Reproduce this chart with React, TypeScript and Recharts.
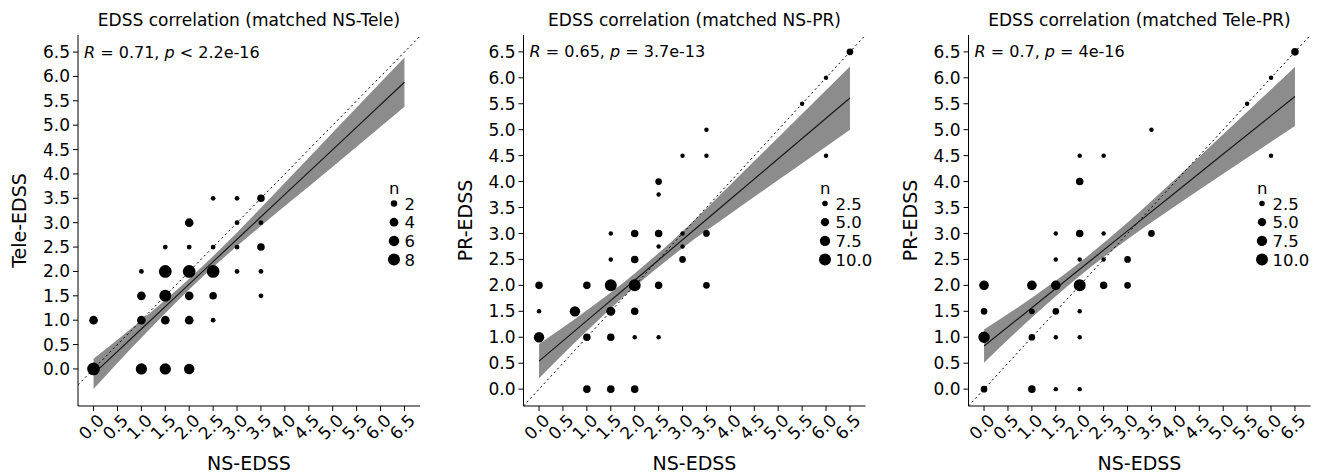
import React from 'react';
import {
  ComposedChart,
  Scatter,
  Line,
  Area,
  XAxis,
  YAxis,
  ZAxis,
  ReferenceLine,
  ReferenceDot,
  Legend,
} from 'recharts';

const FONT = "'DejaVu Sans', 'Open Sans', sans-serif";

// shared tick values
const TICKS = [0, 0.5, 1, 1.5, 2, 2.5, 3, 3.5, 4, 4.5, 5, 5.5, 6, 6.5];

// ---------- Panel 1: NS vs Tele ----------
const P1_X = [0, 0, 1, 1.5, 2, 1, 1.5, 2, 2.5, 1, 1.5, 2, 2.5, 3.5, 1, 1.5, 2, 2.5, 3, 3.5, 1.5, 2, 2.5, 3, 3.5, 2, 3, 3.5, 2.5, 3, 3.5];
const P1_Y = [0, 1, 0, 0, 0, 1, 1, 1, 1, 1.5, 1.5, 1.5, 1.5, 1.5, 2, 2, 2, 2, 2, 2, 2.5, 2.5, 2.5, 2.5, 2.5, 3, 3, 3, 3.5, 3.5, 3.5];
const P1_N = [9, 4, 7, 7, 6, 4, 4, 4, 1, 4, 8, 4, 3, 1, 1, 9, 9, 9, 1, 1, 1, 1, 1, 1, 3, 4, 1, 1, 1, 1, 3];
const P1_FIT_X = [0, 1, 2, 3, 4, 5, 6.5];
const P1_FIT = [-0.1, 0.82, 1.74, 2.66, 3.58, 4.5, 5.88];
const P1_LO = [-0.41, 0.64, 1.63, 2.52, 3.34, 4.15, 5.38];
const P1_HI = [0.21, 1.0, 1.85, 2.8, 3.82, 4.85, 6.39];
const P1_BREAKS = [2, 4, 6, 8];
const P1_BREAK_LABELS = ['2', '4', '6', '8'];

// ---------- Panel 2: NS vs PR ----------
const P2_X = [0, 0, 0, 0.75, 1, 1, 1, 1.5, 1.5, 1.5, 1.5, 1.5, 1.5, 2, 2, 2, 2, 2, 2, 2.5, 2.5, 2.5, 2.5, 2.5, 2.5, 3, 3, 3, 3, 3.5, 3.5, 3.5, 3.5, 5.5, 6, 6, 6.5];
const P2_Y = [2, 1.5, 1, 1.5, 2, 1, 0, 3, 2.5, 2, 1.5, 1, 0, 3, 2.5, 2, 1.5, 1, 0, 4, 3.75, 3, 2.75, 2, 1, 4.5, 3, 2.75, 2.5, 5, 4.5, 3, 2, 5.5, 6, 4.5, 6.5];
const P2_N = [5, 2, 9, 9, 5, 5, 5, 2, 2, 12, 7, 5, 5, 5, 5, 12, 5, 2, 5, 4, 2, 5, 2, 5, 2, 2, 2, 2, 4, 2, 2, 4, 4, 2, 2, 2, 4];
const P2_FIT_X = [0, 1, 2, 3, 4, 5, 6.5];
const P2_FIT = [0.54, 1.32, 2.1, 2.88, 3.66, 4.44, 5.61];
const P2_LO = [0.21, 1.12, 1.97, 2.72, 3.38, 4.03, 5.0];
const P2_HI = [0.87, 1.52, 2.23, 3.04, 3.94, 4.85, 6.22];

// ---------- Panel 3: Tele vs PR ----------
const P3_X = [0, 0, 0, 0, 1, 1, 1, 1, 1.5, 1.5, 1.5, 1.5, 1.5, 1.5, 2, 2, 2, 2, 2, 2, 2, 2, 2.5, 2.5, 2.5, 2.5, 3, 3, 3.5, 3.5, 5.5, 6, 6, 6.5];
const P3_Y = [2, 1.5, 1, 0, 2, 1.5, 1, 0, 3, 2.5, 2, 1.5, 1, 0, 4.5, 4, 3, 2.5, 2, 1.5, 1, 0, 4.5, 3, 2.5, 2, 2.5, 2, 5, 3, 5.5, 6, 4.5, 6.5];
const P3_N = [8, 4, 11, 4, 8, 3, 4, 5, 2, 2, 8, 4, 2, 2, 2, 5, 5, 2, 12, 2, 2, 2, 2, 2, 2, 5, 4, 4, 2, 4, 2, 2, 2, 5];
const P3_FIT_X = [0, 1, 2, 3, 4, 5, 6.5];
const P3_FIT = [0.83, 1.57, 2.31, 3.05, 3.79, 4.53, 5.64];
const P3_LO = [0.51, 1.38, 2.18, 2.89, 3.53, 4.15, 5.07];
const P3_HI = [1.15, 1.76, 2.44, 3.21, 4.05, 4.91, 6.21];

const P23_BREAKS = [2.5, 5, 7.5, 10];
const P23_BREAK_LABELS = ['2.5', '5.0', '7.5', '10.0'];

const X_DOMAIN: [number, number] = [-0.325, 6.825];

const buildPoints = (xs: number[], ys: number[], ns: number[]) =>
  xs.map((x, i) => ({ x, y: ys[i], n: ns[i] }));
const buildFit = (xs: number[], f: number[], lo: number[], hi: number[]) =>
  xs.map((x, i) => ({ x, fit: f[i], band: [lo[i], hi[i]] }));

const TICK_FS = 17;

const XTick = (props: any) => {
  const { x, y, payload } = props;
  return (
    <g transform={`translate(${x + 3},${y})`}>
      <text transform="rotate(-45)" textAnchor="end" dy="0.72em" fontSize={TICK_FS} fill="#000" fontFamily={FONT}>
        {Number(payload.value).toFixed(1)}
      </text>
    </g>
  );
};

const XTitle = (props: any) => {
  const vb = props.viewBox || {};
  return (
    <text x={vb.x + vb.width / 2} y={vb.y + 64} textAnchor="middle" fontSize={19} fill="#000" fontFamily={FONT}>
      NS-EDSS
    </text>
  );
};

const YTitle = (props: any) => {
  const vb = props.viewBox || {};
  const x = vb.x + vb.width - 52;
  const y = vb.y + vb.height / 2;
  return (
    <text x={x} y={y} transform={`rotate(-90, ${x}, ${y})`} textAnchor="middle" fontSize={19} fill="#000" fontFamily={FONT}>
      {props.text}
    </text>
  );
};

const RLabel = (props: any) => {
  const vb = props.viewBox || {};
  return (
    <text x={vb.x + 7} y={vb.y + 6.5} fontSize={16} fill="#000" fontFamily={FONT}>
      <tspan fontStyle="italic">R</tspan>
      <tspan>{` = ${props.r}, `}</tspan>
      <tspan fontStyle="italic">p</tspan>
      <tspan>{` ${props.p}`}</tspan>
    </text>
  );
};

type PanelProps = {
  left: number;
  width: number;
  yAxisWidth: number;
  rightMargin: number;
  title: string;
  yLabel: string;
  r: string;
  p: string;
  points: { x: number; y: number; n: number }[];
  fit: { x: number; fit: number; band: number[] }[];
  yDomain: [number, number];
  zDomain: [number, number];
  zRange: [number, number];
  breaks: number[];
  breakLabels: string[];
  legendLeft: number;
};

const PLOT_W = 342;

function SizeLegend({ breaks, breakLabels, zDomain, zRange }: any) {
  const radius = (b: number) => {
    const a = zRange[0] + ((zRange[1] - zRange[0]) * (b - zDomain[0])) / (zDomain[1] - zDomain[0]);
    return Math.sqrt(a / Math.PI);
  };
  const rowStep = 18.7;
  const firstRow = 28.5;
  return (
    <svg width={70} height={100} style={{ display: 'block', overflow: 'visible' }}>
      <text x={5} y={18.6} fontSize={16.5} fill="#000" fontFamily={FONT}>n</text>
      {breaks.map((b: number, i: number) => (
        <g key={i}>
          <circle cx={10} cy={firstRow + i * rowStep} r={radius(b)} fill="#000" />
          <text x={20.5} y={firstRow + i * rowStep + 6} fontSize={16.5} fill="#000" fontFamily={FONT}>
            {breakLabels[i]}
          </text>
        </g>
      ))}
    </svg>
  );
}

function Panel(props: PanelProps) {
  const {
    left, width, yAxisWidth, rightMargin, title, yLabel, r, p, points, fit,
    yDomain, zDomain, zRange, breaks, breakLabels, legendLeft,
  } = props;
  return (
    <div style={{ position: 'absolute', left, top: 0, width, height: 475 }}>
      <ComposedChart width={width} height={475} margin={{ top: 35, right: rightMargin, bottom: 0, left: 0 }}>
        <XAxis
          type="number"
          dataKey="x"
          domain={X_DOMAIN}
          ticks={TICKS}
          interval={0}
          allowDataOverflow
          height={69}
          tickSize={5}
          tickMargin={2}
          axisLine={{ stroke: '#000', strokeWidth: 1 }}
          tickLine={{ stroke: '#000', strokeWidth: 1 }}
          tick={<XTick />}
          label={<XTitle />}
        />
        <YAxis
          type="number"
          dataKey="y"
          domain={yDomain}
          ticks={TICKS}
          interval={0}
          allowDataOverflow
          width={yAxisWidth}
          tickSize={5}
          tickMargin={3}
          axisLine={{ stroke: '#000', strokeWidth: 1 }}
          tickLine={{ stroke: '#000', strokeWidth: 1 }}
          tick={{ fill: '#000', fontSize: TICK_FS, fontFamily: FONT }}
          tickFormatter={(v: number) => v.toFixed(1)}
          label={<YTitle text={yLabel} />}
        />
        <ZAxis type="number" dataKey="n" domain={zDomain} range={zRange} />
        <Area
          data={fit}
          dataKey="band"
          type="monotone"
          stroke="none"
          fill="#8c8c8c"
          fillOpacity={1}
          isAnimationActive={false}
          activeDot={false}
          dot={false}
        />
        <Line
          data={fit}
          dataKey="fit"
          type="linear"
          stroke="#1a1a1a"
          strokeWidth={1.2}
          dot={false}
          activeDot={false}
          isAnimationActive={false}
        />
        <Scatter data={points} fill="#000" shape="circle" isAnimationActive={false} />
        <ReferenceLine
          segment={[{ x: X_DOMAIN[0], y: X_DOMAIN[0] }, { x: X_DOMAIN[1], y: X_DOMAIN[1] }]}
          stroke="#000"
          strokeWidth={1}
          strokeDasharray="2 3"
          ifOverflow="hidden"
        />
        <ReferenceDot x={X_DOMAIN[0]} y={6.5} r={1} fill="none" stroke="none" label={<RLabel r={r} p={p} />} />
        <Legend
          layout="vertical"
          align="center"
          verticalAlign="middle"
          wrapperStyle={{ position: 'absolute', left: legendLeft, top: 175, width: 70, height: 100 }}
          content={() => (
            <SizeLegend breaks={breaks} breakLabels={breakLabels} zDomain={zDomain} zRange={zRange} />
          )}
        />
        <text
          x={yAxisWidth + PLOT_W / 2}
          y={26}
          textAnchor="middle"
          fontSize={17}
          fill="#000"
          fontFamily={FONT}
        >
          {title}
        </text>
      </ComposedChart>
    </div>
  );
}

export default function App() {
  return (
    <div style={{ position: 'absolute', left: 0, top: 0, width: 1321, height: 475, background: '#fff', fontFamily: FONT }}>
      <Panel
        left={0}
        width={440}
        yAxisWidth={78}
        rightMargin={20}
        title="EDSS correlation (matched NS-Tele)"
        yLabel="Tele-EDSS"
        r="0.71"
        p="< 2.2e-16"
        points={buildPoints(P1_X, P1_Y, P1_N)}
        fit={buildFit(P1_FIT_X, P1_FIT, P1_LO, P1_HI)}
        yDomain={[-0.76, 6.85]}
        zDomain={[1, 9]}
        zRange={[18, 127]}
        breaks={P1_BREAKS}
        breakLabels={P1_BREAK_LABELS}
        legendLeft={384}
      />
      <Panel
        left={440}
        width={440}
        yAxisWidth={83.5}
        rightMargin={14.5}
        title="EDSS correlation (matched NS-PR)"
        yLabel="PR-EDSS"
        r="0.65"
        p="= 3.7e-13"
        points={buildPoints(P2_X, P2_Y, P2_N)}
        fit={buildFit(P2_FIT_X, P2_FIT, P2_LO, P2_HI)}
        yDomain={X_DOMAIN}
        zDomain={[1, 10]}
        zRange={[6, 113]}
        breaks={P23_BREAKS}
        breakLabels={P23_BREAK_LABELS}
        legendLeft={375}
      />
      <Panel
        left={880}
        width={441}
        yAxisWidth={88.5}
        rightMargin={10.5}
        title="EDSS correlation (matched Tele-PR)"
        yLabel="PR-EDSS"
        r="0.7"
        p="= 4e-16"
        points={buildPoints(P3_X, P3_Y, P3_N)}
        fit={buildFit(P3_FIT_X, P3_FIT, P3_LO, P3_HI)}
        yDomain={X_DOMAIN}
        zDomain={[1, 10]}
        zRange={[6, 113]}
        breaks={P23_BREAKS}
        breakLabels={P23_BREAK_LABELS}
        legendLeft={372}
      />
    </div>
  );
}
